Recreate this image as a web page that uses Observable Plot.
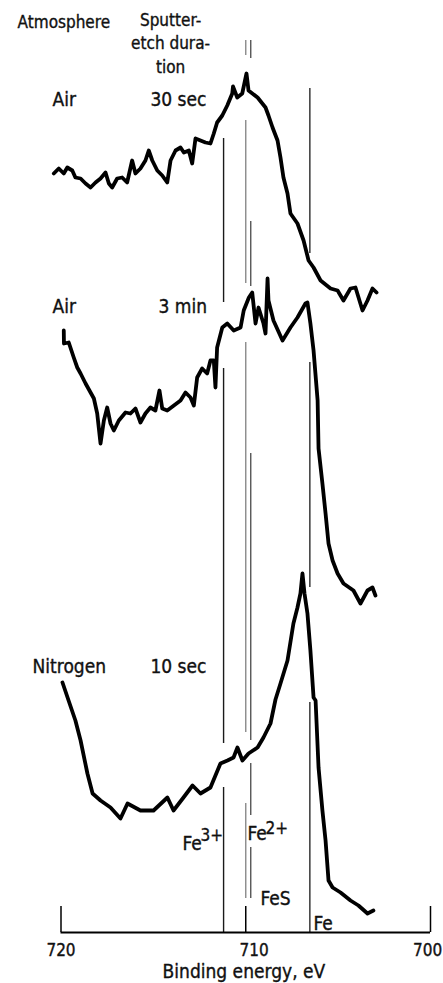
<!DOCTYPE html>
<html><head><meta charset="utf-8">
<script src="https://cdn.jsdelivr.net/npm/d3@7"></script>
<script src="https://cdn.jsdelivr.net/npm/@observablehq/plot@0.6"></script>
<style>body{margin:0;background:#fff}</style>
</head><body><div id="chart"></div>
<script>
// ---- data (binding energy in eV, intensity in arbitrary units, spectra offset vertically) ----
const air30Energy = [720.39,720.12,719.85,719.66,719.39,719.22,718.94,718.67,718.40,718.13,717.86,717.59,717.41,717.23,716.96,716.69,716.42,716.15,715.97,715.70,715.43,715.25,715.06,714.79,714.52,714.25,714.07,713.80,713.53,713.35,713.08,712.90,712.72,712.45,712.18,711.91,711.73,711.55,711.27,711.00,710.73,710.69,710.46,710.19,709.96,709.85,709.36,708.93,708.77,708.55,708.28,708.12,707.96,707.74,707.58,707.20,706.87,706.60,706.33,705.95,705.41,705.03,704.71,704.33,704.06,703.68,703.41,703.14,702.92];
const air30Counts = [75.9,76.4,75.9,76.5,76.2,75.5,75.4,74.9,74.5,75.0,75.4,76.0,74.9,74.5,75.4,75.5,75.0,77.2,75.9,76.4,77.2,78.2,77.2,76.2,75.7,75.0,77.2,78.2,78.5,78.0,78.2,76.9,79.4,79.2,79.0,78.9,79.9,81.0,81.7,82.7,83.9,84.6,83.5,83.9,85.9,84.2,83.5,82.5,81.7,80.5,79.2,77.5,75.5,73.9,71.9,70.9,69.2,67.2,66.5,65.2,64.4,64.2,63.2,64.4,64.5,62.2,63.2,64.4,64.0];

const air3Energy = [719.85,719.84,719.58,719.31,719.12,718.94,718.67,718.40,718.22,718.04,717.86,717.68,717.50,717.32,717.14,716.87,716.51,716.24,715.97,715.70,715.43,715.16,714.89,714.67,714.52,714.25,713.89,713.53,713.26,712.99,712.81,712.63,712.36,712.09,711.91,711.73,711.64,711.55,711.27,711.00,710.65,710.28,710.11,709.83,709.65,709.47,709.31,709.04,708.93,708.82,708.77,708.50,708.01,707.58,707.20,706.77,706.66,706.50,706.33,706.11,706.06,705.85,705.68,705.52,705.30,705.03,704.71,704.17,703.79,703.41,703.14,702.98];
const air3Counts = [60.2,58.9,59.0,57.5,56.5,55.9,54.9,54.0,53.4,51.9,48.9,51.2,52.5,50.9,50.2,51.2,52.0,51.9,52.4,51.0,51.9,52.5,52.2,54.2,52.4,52.2,52.7,53.2,54.0,53.5,52.7,55.5,56.4,55.9,57.2,57.2,54.5,58.5,60.5,60.9,60.2,60.5,62.2,63.5,64.0,60.9,62.5,60.9,59.9,65.4,63.2,61.2,59.2,60.5,61.5,62.9,63.0,60.9,58.2,53.2,48.4,44.9,41.9,38.9,37.2,35.9,34.9,34.2,32.9,34.2,34.5,33.7];

const n2Energy = [719.92,719.59,719.22,718.94,718.57,718.29,717.86,717.32,716.78,716.40,715.70,714.99,714.24,713.91,713.37,712.88,712.45,711.91,711.37,710.99,710.66,710.45,710.18,709.85,709.36,709.04,708.66,708.39,708.12,707.74,707.42,707.20,707.04,706.93,706.82,706.66,706.50,706.33,706.22,706.06,705.85,705.68,705.52,705.30,704.87,704.33,703.90,703.41,703.09];
const n2Counts = [25.0,23.2,21.2,19.2,15.9,13.9,13.2,12.5,11.4,12.9,12.2,12.2,13.5,12.2,13.5,14.7,13.9,14.5,16.9,17.2,17.5,18.5,17.2,17.9,18.5,19.5,20.9,23.3,24.9,27.2,30.9,32.5,33.9,35.9,33.9,31.9,28.2,23.5,23.2,16.5,12.2,9.2,5.2,4.5,4.0,3.2,2.7,1.9,2.2];

// reference lines (eV) and their visible segments [from, to] in intensity units
const refEnergy = [711.2, 710.0, 709.73, 706.53];
const refSegments = [
  [[79.4,63.0],[56.4,18.9],[14.5,0]],
  [[89.2,87.7],[81.2,64.9],[59.0,20.0],[12.9,3.4]],
  [[89.2,87.4],[71.1,64.6],[47.9,19.2],[16.9,11.7],[8.5,3.4]],
  [[84.4,67.9],[57.0,34.5],[23.0,0]]
];
const refShade = ["#1a1a1a", "#8a8a8a", "#555555", "#2a2a2a"];

const ionBase = ["Fe", "Fe", "FeS", "Fe"];
const ionSup = ["3+", "2+"];

const tickValues = [720, 710, 700];
const headerAtmosphere = "Atmosphere";
const headerDuration = ["Sputter-", "etch dura-", "tion"];
const atmospheres = ["Air", "Air", "Nitrogen"];
const durations = ["30 sec", "3 min", "10 sec"];
const xLabel = "Binding energy, eV";

// ---- build tables ----
const zip = (e, c, name) => e.map((x, i) => ({energy: x, counts: c[i], series: name}));
const spectra = [
  ...zip(air30Energy, air30Counts, "air30"),
  ...zip(air3Energy, air3Counts, "air3"),
  ...zip(n2Energy, n2Counts, "n2")
];
const segs = refSegments.flatMap((list, k) => list.map(([a, b]) => ({energy: refEnergy[k], y1: a, y2: b, shade: refShade[k]})));

const FONT = "'DejaVu Sans Condensed', 'Liberation Sans Narrow', sans-serif";
const ink = {fill: "#111", stroke: "#111", strokeWidth: 0.35};
const t = (txt, x, y, opts = {}) => Plot.text([txt], {x: () => x, y: () => y, text: d => d, textAnchor: "start", lineAnchor: "bottom", fontSize: 19, ...ink, ...opts});

const chart = Plot.plot({
  width: 443, height: 983,
  marginLeft: 60.5, marginRight: 13, marginTop: 0, marginBottom: 0,
  x: {domain: [720, 700], axis: null},
  y: {domain: [-5.1, 93.2], axis: null},
  style: {fontFamily: FONT, background: "white", overflow: "visible"},
  marks: [
    // reference energy lines
    Plot.ruleX(segs, {x: "energy", y1: "y1", y2: "y2", stroke: "shade", strokeWidth: 1.4}),
    // axis line and ticks
    Plot.ruleY([0], {x1: tickValues[0], x2: tickValues[tickValues.length - 1], stroke: "#000", strokeWidth: 1.8}),
    Plot.ruleX(tickValues, {x: d => d, y1: 0, y2: 2.6, stroke: "#000", strokeWidth: 1.5}),
    Plot.text(tickValues, {x: d => d === 710 ? 709.55 : d === 700 ? 700.16 : d, y: -2.3, text: d => String(d), lineAnchor: "bottom", fontSize: 17, ...ink}),
    t(xLabel, 710.1, -4.5, {textAnchor: "middle"}),
    // spectra
    Plot.line(spectra, {x: "energy", y: "counts", z: "series", stroke: "#000", strokeWidth: 3.8, strokeLinejoin: "round", curve: "linear"}),
    // headers
    t(headerAtmosphere, 722.35, 90.5, {fontSize: 17}),
    Plot.text([headerDuration.join("\n")], {x: () => 714.07, y: () => 86.0, text: d => d, textAnchor: "middle", lineAnchor: "bottom", lineHeight: 1.38, fontSize: 17, ...ink}),
    // series labels
    t(atmospheres[0], 720.46, 82.7),
    t(durations[0], 715.16, 82.7),
    t(atmospheres[1], 720.46, 62.0),
    t(durations[1], 714.72, 62.0),
    t(atmospheres[2], 721.54, 26.0),
    t(durations[2], 715.16, 26.0),
    // ion labels
    t(ionBase[0], 713.42, 8.3),
    t(ionSup[0], 712.45, 9.2, {fontSize: 17}),
    t(ionBase[1], 709.91, 9.3),
    t(ionSup[1], 708.93, 9.9, {fontSize: 17}),
    t(ionBase[2], 709.20, 2.8),
    t(ionBase[3], 706.33, 0.3)
  ]
});
document.getElementById("chart").appendChild(chart);
</script>
</body></html>
